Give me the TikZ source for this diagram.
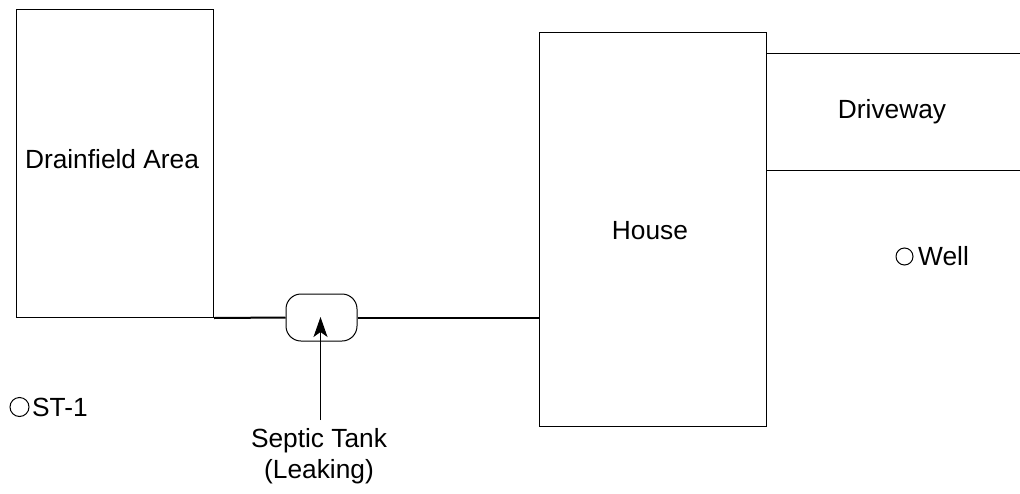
\documentclass[tikz,border=0pt]{standalone}
\usepackage{fontspec}
\setmainfont{Liberation Sans}
\usetikzlibrary{arrows.meta}
\begin{document}
\begin{tikzpicture}[x=1pt,y=-1pt,
  every node/.style={font=\fontsize{26.3}{30.5}\selectfont},
  area/.style={draw, line width=1pt, inner sep=0pt},
  lbl/.style={inner sep=0pt},
  pipe/.style={line width=2pt},
  thin/.style={line width=1pt},
  tankarrow/.style={line width=1pt, -{Stealth[length=20pt, width=14pt, inset=5pt]}},
  marker/.style={circle, draw, line width=1pt, inner sep=0pt}]
\useasboundingbox (0,0) rectangle (1020,493);
% Drainfield
\node[area, minimum width=197pt, minimum height=308pt, anchor=north west] (drain) at (16,9) {};
\node[lbl] (draintext) at (112,159) {Drainfield Area};
% House
\node[area, minimum width=227pt, minimum height=394pt, anchor=north west] (house) at (539,32) {};
\node[lbl] (housetext) at (650,231) {House};
% Driveway
\coordinate (dwtl) at (766,53);
\coordinate (dwtr) at (1020,53);
\coordinate (dwbl) at (766,170);
\coordinate (dwbr) at (1020,170);
\draw[thin] (dwtl) -- (dwtr);
\draw[thin] (dwbl) -- (dwbr);
\node[lbl] (dwtext) at (892,112) {Driveway};
% Septic tank
\node[draw, line width=1pt, rounded corners=15pt, minimum width=71pt, minimum height=47pt, inner sep=0pt] (tank) at (321.5,317.5) {};
\draw[pipe] (drain.south east) -- (tank.west);
\draw[pipe] (tank.east) -- (house.west |- tank.east);
% Label and arrow
\node[lbl, align=center] (tanklbl) at (319,456) {Septic Tank\\(Leaking)};
\coordinate (arrstart) at (320.5,420);
\coordinate (arrtip) at (320.5,317);
\draw[tankarrow] (arrstart) -- (arrtip);
% ST-1
\node[marker, minimum size=19pt] (st1) at (19.5,407) {};
\node[lbl, anchor=west] (st1text) at (32,407) {ST-1};
% Well
\node[marker, minimum size=17pt] (well) at (904.5,256.5) {};
\node[lbl, anchor=west] (welltext) at (918,256.5) {Well};
\end{tikzpicture}
\end{document}
